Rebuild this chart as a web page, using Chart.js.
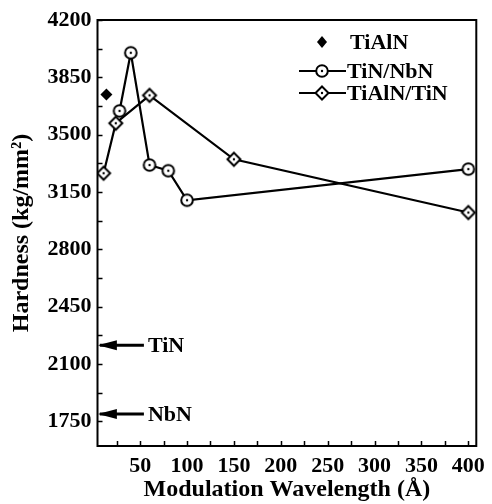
<!DOCTYPE html>
<html>
<head>
<meta charset="utf-8">
<script src="https://cdn.jsdelivr.net/npm/chart.js@4.4.0/dist/chart.umd.min.js"></script>
<style>
  html, body { margin: 0; padding: 0; background: #fff; }
  #wrap { width: 492px; height: 504px; }
</style>
</head>
<body>
<div id="wrap"><canvas id="myChart"></canvas></div>
<script>
// modulation wavelength (A) vs hardness (kg/mm2)
var tinNbnX = [28, 40, 60, 80, 100, 400];
var tinNbnY = [3645, 4000, 3315, 3280, 3100, 3290];
var tialnTinX = [11, 24, 60, 150, 400];
var tialnTinY = [3265, 3570, 3740, 3350, 3025];
var tialnX = [14];
var tialnY = [3745];

// single layer hardness, shown as arrows on the y axis
var refNames = ["TiN", "NbN"];
var refY = [2215, 1795];
var arrowX = [7, 54];

var xTickValues = [25, 50, 75, 100, 125, 150, 175, 200, 225, 250, 275, 300, 325, 350, 375, 400];
var xTickLabels = ["", "50", "", "100", "", "150", "", "200", "", "250", "", "300", "", "350", "", "400"];
var yTickValues = [1750, 1925, 2100, 2275, 2450, 2625, 2800, 2975, 3150, 3325, 3500, 3675, 3850, 4025, 4200];
var yTickLabels = ["1750", "", "2100", "", "2450", "", "2800", "", "3150", "", "3500", "", "3850", "", "4200"];

var FONT = "'Liberation Serif', 'Times New Roman', serif";

function pts(xs, ys) {
    var out = [];
    for (var i = 0; i < xs.length; i++) out.push({ x: xs[i], y: ys[i] });
    return out;
}

// hollow marker with a dot in the middle
function marker(shape) {
    var c = document.createElement("canvas");
    c.width = 18; c.height = 18;
    var g = c.getContext("2d");
    g.lineWidth = 2;
    g.strokeStyle = "#000";
    g.fillStyle = "#fff";
    g.beginPath();
    if (shape == "circle") {
        g.arc(9, 9, 5.8, 0, 2 * Math.PI);
    } else {
        g.moveTo(9, 2.5); g.lineTo(15.5, 9); g.lineTo(9, 15.5); g.lineTo(2.5, 9); g.closePath();
    }
    g.fill();
    g.stroke();
    g.fillStyle = "#000";
    g.beginPath();
    g.arc(9, 9, 1.2, 0, 2 * Math.PI);
    g.fill();
    return c;
}
var circleMark = marker("circle");
var diamondMark = marker("diamond");

var datasets = [
    {
        label: "TiAlN",
        data: pts(tialnX, tialnY),
        showLine: false,
        pointStyle: "rectRot",
        pointRadius: 6,
        backgroundColor: "#000",
        borderColor: "#000",
        borderWidth: 0
    },
    {
        label: "TiN/NbN",
        data: pts(tinNbnX, tinNbnY),
        showLine: true,
        borderColor: "#000",
        borderWidth: 2.2,
        pointStyle: circleMark
    },
    {
        label: "TiAlN/TiN",
        data: pts(tialnTinX, tialnTinY),
        showLine: true,
        borderColor: "#000",
        borderWidth: 2.2,
        pointStyle: diamondMark
    }
];
for (var r = 0; r < refNames.length; r++) {
    datasets.push({
        label: refNames[r],
        isArrow: true,
        data: pts(arrowX, [refY[r], refY[r]]),
        showLine: true,
        borderColor: "#000",
        borderWidth: 3,
        pointRadius: 0
    });
}

var framePlugin = {
    id: "frame",
    afterDatasetsDraw: function (chart) {
        var ctx = chart.ctx, a = chart.chartArea;
        var xs = chart.scales.x, ys = chart.scales.y;
        ctx.save();
        ctx.strokeStyle = "#000";
        ctx.lineWidth = 2;
        ctx.strokeRect(a.left, a.top, a.right - a.left, a.bottom - a.top);
        // inward tick marks
        ctx.lineWidth = 1.5;
        ctx.beginPath();
        xs.ticks.forEach(function (t) {
            var px = Math.round(xs.getPixelForValue(t.value)) + 0.5;
            ctx.moveTo(px, a.bottom);
            ctx.lineTo(px, a.bottom - 5);
        });
        ys.ticks.forEach(function (t) {
            var py = Math.round(ys.getPixelForValue(t.value)) + 0.5;
            ctx.moveTo(a.left, py);
            ctx.lineTo(a.left + 5, py);
        });
        ctx.stroke();

        // arrow heads and their labels
        chart.data.datasets.forEach(function (ds, i) {
            if (!ds.isArrow) return;
            var pts = chart.getDatasetMeta(i).data;
            var tip = pts[0], tail = pts[pts.length - 1];
            ctx.fillStyle = "#000";
            ctx.beginPath();
            ctx.moveTo(tip.x - 2, tip.y);
            ctx.lineTo(tip.x + 17, tip.y - 5);
            ctx.lineTo(tip.x + 17, tip.y + 5);
            ctx.closePath();
            ctx.fill();
            ctx.font = "bold 22px " + FONT;
            ctx.textAlign = "left";
            ctx.textBaseline = "middle";
            ctx.fillText(ds.label, tail.x + 4, tail.y + 1);
        });
        ctx.restore();
    },
    afterDraw: function (chart) {
        // legend in the upper right corner
        var ctx = chart.ctx;
        var rows = [
            { ds: 0, y: 42, line: false },
            { ds: 1, y: 71, line: true },
            { ds: 2, y: 93, line: true }
        ];
        ctx.save();
        rows.forEach(function (row) {
            var ds = chart.data.datasets[row.ds];
            var mx = 322;
            if (row.line) {
                ctx.strokeStyle = "#000";
                ctx.lineWidth = 2;
                ctx.beginPath();
                ctx.moveTo(299, row.y);
                ctx.lineTo(346, row.y);
                ctx.stroke();
            }
            if (ds.pointStyle == "rectRot") {
                ctx.fillStyle = "#000";
                ctx.beginPath();
                ctx.moveTo(mx, row.y - 6);
                ctx.lineTo(mx + 5, row.y);
                ctx.lineTo(mx, row.y + 6);
                ctx.lineTo(mx - 5, row.y);
                ctx.closePath();
                ctx.fill();
            } else {
                ctx.drawImage(ds.pointStyle, mx - 9, row.y - 9);
            }
            ctx.fillStyle = "#000";
            ctx.font = "bold 22px " + FONT;
            ctx.textAlign = "left";
            ctx.textBaseline = "middle";
            ctx.fillText(ds.label, row.line ? 347 : 350, row.y + 1);
        });
        ctx.restore();
    }
};

new Chart("myChart", {
    type: "scatter",
    data: { datasets: datasets },
    options: {
        responsive: true,
        maintainAspectRatio: false,
        animation: false,
        events: [],
        layout: { padding: { top: 20, right: 8.5, left: 0, bottom: 0 } },
        plugins: { legend: { display: false }, tooltip: { enabled: false } },
        scales: {
            x: {
                type: "linear",
                min: 4.5,
                max: 408.5,
                grid: { display: false, drawTicks: false },
                border: { display: false },
                afterBuildTicks: function (scale) {
                    scale.ticks = xTickValues.map(function (v) { return { value: v }; });
                },
                afterFit: function (scale) { scale.height = 58; },
                ticks: {
                    autoSkip: false,
                    maxRotation: 0,
                    padding: 7,
                    color: "#000",
                    font: { family: FONT, size: 22, weight: "bold" },
                    callback: function (v) { return xTickLabels[xTickValues.indexOf(v)]; }
                },
                title: {
                    display: true,
                    text: "Modulation Wavelength (Å)",
                    color: "#000",
                    font: { family: FONT, size: 24, weight: "bold" },
                    padding: { top: 0, bottom: 0 }
                }
            },
            y: {
                type: "linear",
                min: 1600,
                max: 4200,
                grid: { display: false, drawTicks: false },
                border: { display: false },
                afterBuildTicks: function (scale) {
                    scale.ticks = yTickValues.map(function (v) { return { value: v }; });
                },
                afterFit: function (scale) { scale.width = 97.5; },
                ticks: {
                    autoSkip: false,
                    padding: 6,
                    color: "#000",
                    font: { family: FONT, size: 22, weight: "bold" },
                    callback: function (v) { return yTickLabels[yTickValues.indexOf(v)]; }
                },
                title: {
                    display: true,
                    text: "Hardness (kg/mm²)",
                    color: "#000",
                    font: { family: FONT, size: 24, weight: "bold" },
                    padding: { top: 7, bottom: 0 }
                }
            }
        }
    },
    plugins: [framePlugin]
});
</script>
</body>
</html>
